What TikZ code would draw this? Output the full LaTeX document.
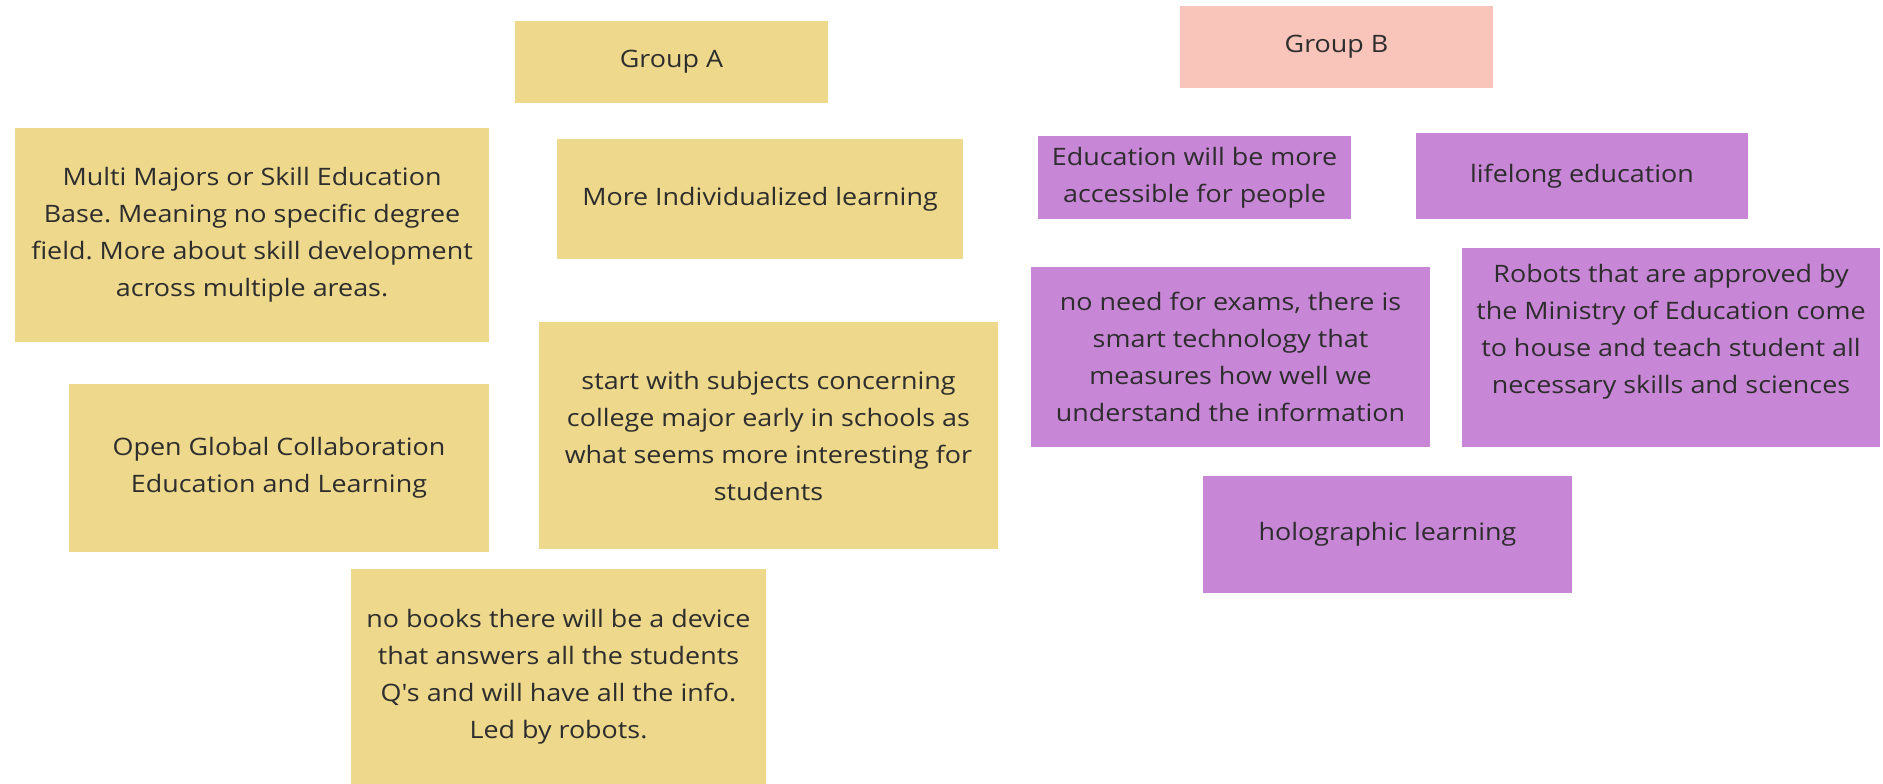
\documentclass[tikz,border=0pt]{standalone}
\usepackage{fontspec}
\setmainfont[FakeStretch=1.12]{Open Sans}
\frenchspacing
\newcommand{\straightq}{{\XeTeXglyph\XeTeXcharglyph"0027\relax}}
\definecolor{ylw}{RGB}{237,216,140}
\definecolor{pnk}{RGB}{249,196,185}
\definecolor{prp}{RGB}{200,134,214}
\definecolor{txt}{RGB}{45,45,45}
\begin{document}
\begin{tikzpicture}[x=1pt,y=-1pt,
  card/.style={inner sep=0pt, outer sep=0pt, align=center, text=txt,
    font=\fontsize{24}{37}\selectfont},
  lbl/.style={inner sep=0pt, align=center, text=txt, font=\fontsize{24}{37}\selectfont}]
\useasboundingbox[fill=white] (0,0) rectangle (1883,784);
% Group A (yellow)
\node[card, fill=ylw, minimum width=313pt, minimum height=82pt] (ga) at (671.5,62) {Group A};
\node[card, fill=ylw, minimum width=474pt, minimum height=214pt] (multi) at (252,235)
  {Multi Majors or Skill Education\\Base. Meaning no specific degree\\field. More about skill development\\across multiple areas.};
\node[card, fill=ylw, minimum width=406pt, minimum height=120pt] (indiv) at (760,199)
  {More Individualized learning};
\node[card, fill=ylw, minimum width=420pt, minimum height=168pt] (open) at (279,468)
  {Open Global Collaboration\\Education and Learning};
\node[card, fill=ylw, minimum width=459pt, minimum height=227pt] (start) at (768.5,435.5)
  {start with subjects concerning\\college major early in schools as\\what seems more interesting for\\students};
\node[card, fill=ylw, minimum width=415pt, minimum height=215pt] (books) at (558.5,676.5)
  {no books there will be a device\\that answers all the students\\Q\straightq s and will have all the info.\\Led by robots.};
% Group B (pink / purple)
\node[card, fill=pnk, minimum width=313pt, minimum height=82pt] (gb) at (1336.5,47) {Group B};
\node[card, fill=prp, minimum width=313pt, minimum height=83pt] (access) at (1194.5,177.5)
  {Education will be more\\accessible for people};
\node[card, fill=prp, minimum width=332pt, minimum height=86pt] (life) at (1582,176)
  {lifelong education};
\node[card, fill=prp, minimum width=399pt, minimum height=180pt] (exams) at (1230.5,357)
  {no need for exams, there is\\smart technology that\\measures how well we\\understand the information};
\node[card, fill=prp, minimum width=418pt, minimum height=199pt] (robots) at (1671,347.5) {};
\node[lbl] (robotsText) at (1671,332)
  {Robots that are approved by\\the Ministry of Education come\\to house and teach student all\\necessary skills and sciences};
\node[card, fill=prp, minimum width=369pt, minimum height=117pt] (holo) at (1387.5,534.5)
  {holographic learning};
\end{tikzpicture}
\end{document}
